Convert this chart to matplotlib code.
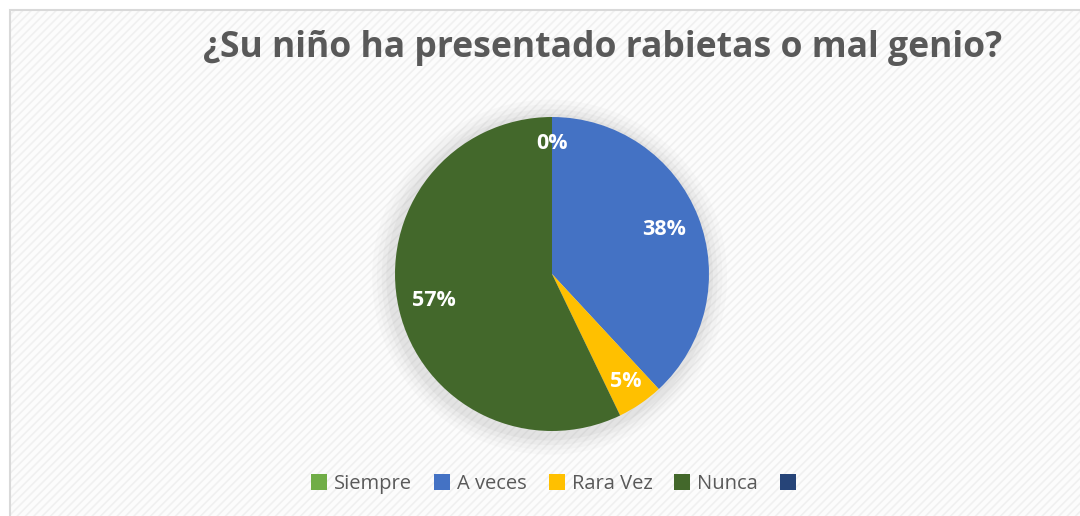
import matplotlib
matplotlib.use("Agg")
import matplotlib.pyplot as plt
from matplotlib.patches import Rectangle, Circle, Patch
import matplotlib as mpl
import numpy as np

categories = ["Siempre", "A veces", "Rara Vez", "Nunca", ""]
counts = [0, 8, 1, 12, 0]
colors = ["#70AD47", "#4472C4", "#FFC000", "#43682B", "#264478"]
title = "¿Su niño ha presentado rabietas o mal genio?"

mpl.rcParams['hatch.linewidth'] = 1.2

W, H = 1080, 516
fig = plt.figure(figsize=(W / 100, H / 100), dpi=100)
fig.patch.set_facecolor("white")

# chart area background with diagonal pattern and border
bg = Rectangle((10 / W, -0.05), 1.1, (H - 10) / H + 0.05, transform=fig.transFigure,
               facecolor="#fcfcfc", edgecolor="#f0f0f0", linewidth=0, hatch="////", zorder=-5)
fig.patches.append(bg)
brd = Rectangle((10 / W, -0.05), 1.1, (H - 10) / H + 0.05, transform=fig.transFigure,
                facecolor="none", edgecolor="#d9d9d9", linewidth=1.5, zorder=-4)
fig.patches.append(brd)

# pie axes
cx, cy, r = 552, 274, 157
ax = fig.add_axes([(cx - r) / W, (H - cy - r) / H, 2 * r / W, 2 * r / H])
ax.set_zorder(2)
ax.patch.set_alpha(0)

# soft shadow
for k, a in [(1.13, 0.03), (1.10, 0.04), (1.07, 0.05), (1.04, 0.07)]:
    ax.add_patch(Circle((-0.015, -0.02), k, facecolor="#7a7a7a", alpha=a,
                        edgecolor="none", zorder=0, clip_on=False))

total = sum(counts)
wedges, texts = ax.pie(counts[:4], colors=colors[:4], startangle=90, counterclock=False,
                       radius=1, wedgeprops=dict(linewidth=0))
for w in wedges:
    w.set_zorder(2)
ax.set_xlim(-1, 1)
ax.set_ylim(-1, 1)
ax.set_aspect("equal")
ax.axis("off")

theta = 90.0
for i, c in enumerate(counts[:4]):
    span = 360.0 * c / total
    mid = np.deg2rad(theta - span / 2)
    d = 0.83 if c / total < 0.1 else 0.77
    ax.text(d * np.cos(mid), d * np.sin(mid), f"{100 * c / total:.0f}%",
            ha="center", va="center", color="white", fontsize=15.5,
            fontweight="bold", family="Open Sans", zorder=5)
    theta -= span

fig.text(603 / W, 1 - 48 / H, title, ha="center", va="center", fontsize=25.6,
         fontweight="bold", color="#595959", family="Open Sans")

handles = [Patch(facecolor=c, edgecolor="none") for c in colors]
leg = fig.legend(handles, categories, loc="center", bbox_to_anchor=(557 / W, 1 - 484 / H),
                 ncol=5, frameon=False, handlelength=0.8, handleheight=0.8,
                 handletextpad=0.35, columnspacing=1.08, prop=dict(family="Open Sans", size=14.5))
for t in leg.get_texts():
    t.set_color("#595959")

fig.savefig("out.png", dpi=100)
